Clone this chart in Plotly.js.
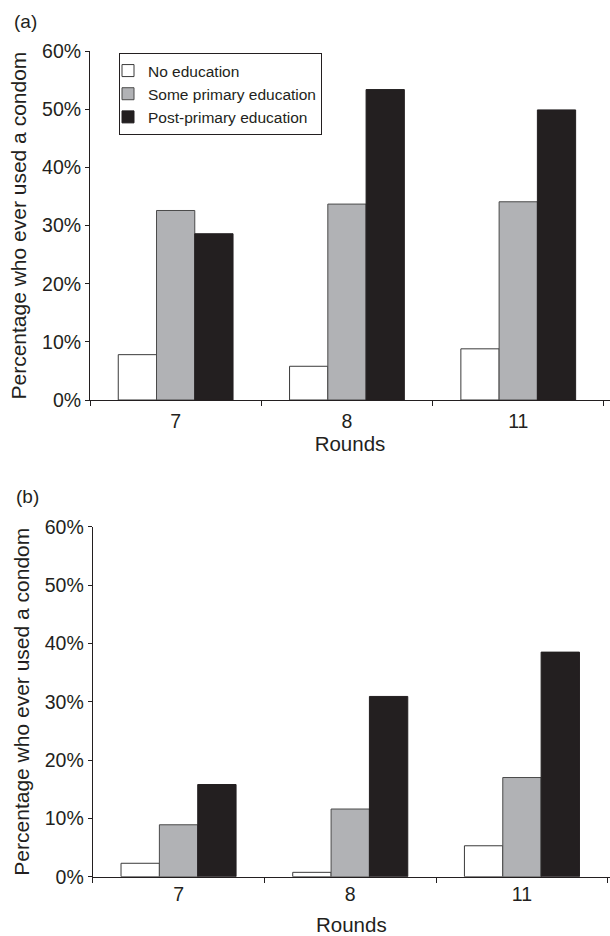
<!DOCTYPE html>
<html>
<head>
<meta charset="utf-8">
<script src="https://cdn.plot.ly/plotly-3.0.1.min.js"></script>
<style>
html,body{margin:0;padding:0;background:#fff;overflow:hidden;}
#chart{width:610px;height:936px;}
</style>
</head>
<body>
<div id="chart"></div>
<script>
// ---- data ----
const rounds = ["7", "8", "11"];
const seriesNames = ["No education", "Some primary education", "Post-primary education"];
// Panel (a)
const aNoEducation = [0.078, 0.058, 0.088];
const aSomePrimary = [0.326, 0.337, 0.341];
const aPostPrimary = [0.286, 0.534, 0.499];
// Panel (b)
const bNoEducation = [0.023, 0.0075, 0.053];
const bSomePrimary = [0.089, 0.116, 0.170];
const bPostPrimary = [0.158, 0.309, 0.385];
const yTickVals = [0, 0.1, 0.2, 0.3, 0.4, 0.5, 0.6];
const yTickText = ["0%", "10%", "20%", "30%", "40%", "50%", "60%"];

// ---- styles ----
const fills = ["#ffffff", "#b1b2b5", "#231f20"];
const lines = ["#3a3a3a", "#4a4a4a", "#231f20"];
const FONT = "Liberation Sans, Arial, Helvetica, sans-serif";
const INK = "#231f20";

function bars(vals, i, xa, ya, show) {
  return {
    type: "bar", x: rounds, y: vals, name: seriesNames[i],
    xaxis: xa, yaxis: ya, showlegend: show,
    marker: {color: fills[i], line: {color: lines[i], width: 1}},
    hoverinfo: "x+y+name"
  };
}

const data = [
  bars(aNoEducation, 0, "x", "y", true),
  bars(aSomePrimary, 1, "x", "y", true),
  bars(aPostPrimary, 2, "x", "y", true),
  bars(bNoEducation, 0, "x2", "y2", false),
  bars(bSomePrimary, 1, "x2", "y2", false),
  bars(bPostPrimary, 2, "x2", "y2", false)
];

const W = 610, H = 936;
function xAxis(leftPx, catPx, anchor, lblOff, titleOff) {
  return {
    domain: [leftPx / W, 1], anchor: anchor, type: "category",
    range: [-0.5, -0.5 + (W - leftPx) / catPx],
    showline: true, linecolor: INK, linewidth: 1,
    ticks: "outside", ticklen: 5, tickcolor: INK, tickson: "boundaries",
    ticklabelstandoff: lblOff,
    showgrid: false, zeroline: false,
    tickfont: {family: FONT, size: 19.5, color: INK},
    title: {text: "Rounds", font: {family: FONT, size: 20.5, color: INK}, standoff: titleOff},
    fixedrange: true
  };
}
function yAxis(topPx, botPx, anchor) {
  return {
    domain: [1 - botPx / H, 1 - topPx / H], anchor: anchor,
    range: [0, 0.6], tickvals: yTickVals, ticktext: yTickText,
    showline: true, linecolor: INK, linewidth: 1,
    ticks: "outside", ticklen: 4, tickcolor: INK,
    showgrid: false, zeroline: false,
    tickfont: {family: FONT, size: 19.5, color: INK},
    title: {text: "Percentage who ever used a condom", font: {family: FONT, size: 21, color: INK}, standoff: 9},
    fixedrange: true
  };
}

const layout = {
  width: W, height: H,
  margin: {l: 0, r: 0, t: 0, b: 0},
  paper_bgcolor: "#fff", plot_bgcolor: "#fff",
  barmode: "group", bargap: 0.33, bargroupgap: 0,
  font: {family: FONT, color: INK},
  xaxis: xAxis(90, 171.3, "y", 4, 2),
  yaxis: yAxis(51.2, 400, "x"),
  xaxis2: xAxis(92.7, 171.7, "y2", 0, 15),
  yaxis2: yAxis(526.7, 876.7, "x2"),
  showlegend: true,
  legend: {
    x: 119 / W, y: 1 - 53 / H, xanchor: "left", yanchor: "top",
    bordercolor: INK, borderwidth: 1, bgcolor: "#fff",
    font: {family: FONT, size: 15.5, color: INK},
    itemwidth: 30, indentation: -12, tracegroupgap: 0, traceorder: "normal"
  },
  annotations: [
    {text: "(a)", xref: "paper", yref: "paper", x: 12 / W, y: 1 - 21 / H, xanchor: "left", yanchor: "middle", showarrow: false, font: {family: FONT, size: 19, color: INK}},
    {text: "(b)", xref: "paper", yref: "paper", x: 14 / W, y: 1 - 496.5 / H, xanchor: "left", yanchor: "middle", showarrow: false, font: {family: FONT, size: 19, color: INK}}
  ]
};

Plotly.newPlot("chart", data, layout, {displayModeBar: false, staticPlot: true});
</script>
</body>
</html>
